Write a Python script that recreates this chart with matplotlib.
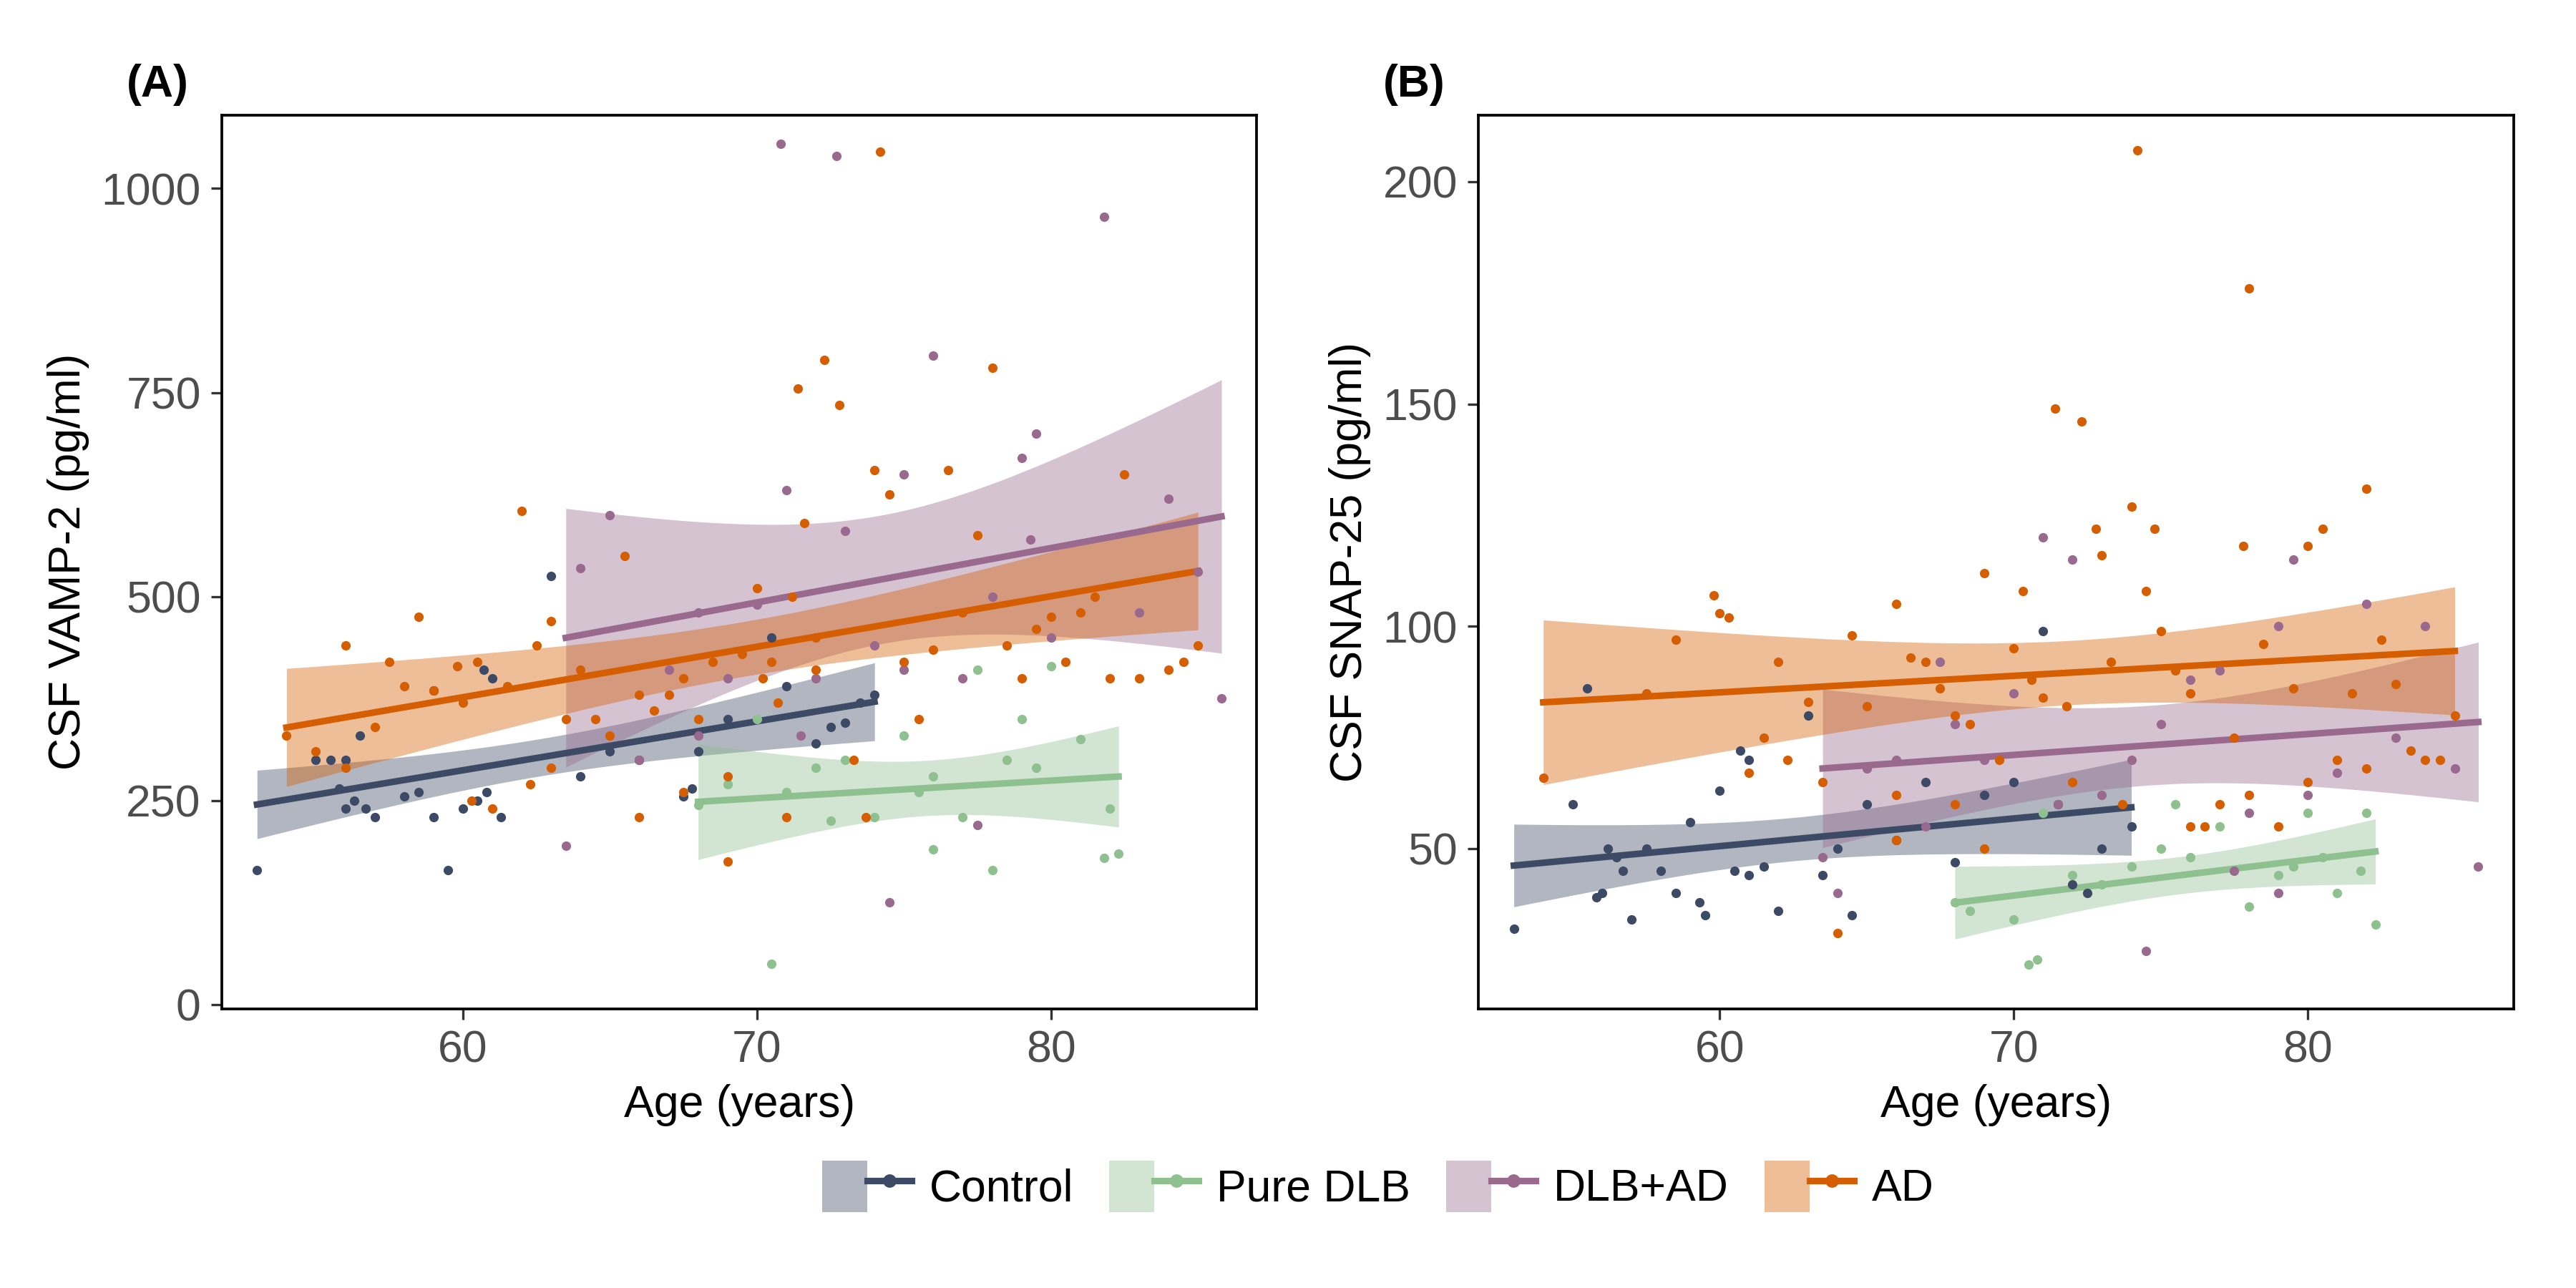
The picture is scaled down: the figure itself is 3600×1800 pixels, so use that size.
import numpy as np
import matplotlib
matplotlib.use("Agg")
import matplotlib.pyplot as plt
from matplotlib.patches import Patch
from matplotlib.lines import Line2D
from matplotlib.legend_handler import HandlerTuple

plt.rcParams['font.family'] = ['Liberation Sans', 'DejaVu Sans']

groups = ["Control", "Pure DLB", "DLB+AD", "AD"]
colors = {"Control": "#3d4a66", "Pure DLB": "#8fc08f", "DLB+AD": "#9a6a8e", "AD": "#d55e00"}

vamp_control = [(53,165),(55.5,300),(56,240),(56.5,330),(55.8,265),(56.3,250),(56.7,240),(57,230),(58,255),(58.5,260),(59,385),(59.5,165),(59,230),(60.5,250),(60.8,260),(60.7,410),(61,400),(61.3,230),(63,525),(64,280),(65,310),(66,300),(67.5,255),(67.8,265),(68,310),(69,350),(70.5,450),(71,390),(72,320),(73,345),(73.5,370),(72.5,340),(74,380),(60,240),(55,300),(56,300)]
vamp_puredlb = [(68,245),(69,270),(70.5,50),(71,260),(72,290),(72.5,225),(73,300),(74,230),(75,330),(76,190),(77,230),(77.5,410),(78,165),(79,350),(79.5,290),(80,415),(81,325),(81.8,180),(82,240),(82.3,185),(76,280),(78.5,300),(70,350),(75.5,260)]
vamp_dlbad = [(63.5,195),(64,535),(65,600),(66,300),(67,410),(68,480),(69,400),(70,490),(70.8,1055),(71,630),(72,400),(72.7,1040),(73,580),(74,440),(74.5,125),(75,650),(76,795),(77,400),(78,500),(79,670),(79.5,700),(79.3,570),(80,450),(81.8,965),(83,480),(84,620),(85,530),(85.8,375),(77.5,220),(71.5,330),(68,330),(75,410)]
vamp_ad = [(54,330),(55,310),(56,290),(56,440),(57,340),(57.5,420),(58,390),(58.5,475),(59,385),(59.8,415),(60,370),(60.3,250),(60.5,420),(61,240),(61.5,390),(62,605),(62.3,270),(62.5,440),(63,290),(63,470),(63.5,350),(64,410),(65,330),(65.5,550),(66,380),(66.5,360),(67,380),(67.5,400),(68,350),(68.5,420),(69,280),(69.5,430),(70,510),(70.2,400),(70.5,420),(71,230),(71.2,500),(71.4,755),(71.6,590),(72,410),(72.3,790),(72.8,735),(73.3,300),(73.7,230),(74,655),(74.2,1045),(74.5,625),(75,420),(75.5,350),(76,435),(76.5,655),(77,480),(77.5,575),(78,780),(78.5,440),(79,400),(79.5,460),(80,475),(80.5,420),(81,480),(81.5,500),(82,400),(82.5,650),(83,400),(84,410),(84.5,420),(85,440),(69,175),(66,230),(67.5,260),(64.5,350),(70.7,370),(72,450)]

snap_control = [(53,32),(55,60),(55.5,86),(55.8,39),(56,40),(56.2,50),(56.5,48),(56.7,45),(57,34),(58,45),(58.5,40),(59,56),(59.3,38),(59.5,35),(60,63),(60.5,45),(60.7,72),(61,70),(61.5,46),(62,36),(63,80),(63.5,44),(64,50),(64.5,35),(65,60),(66,52),(67,65),(68,47),(69,62),(70,65),(71,99),(71.5,60),(72,42),(72.5,40),(73,50),(74,55),(61,44),(57.5,50)]
snap_puredlb = [(68,38),(68.5,36),(70.5,24),(70.8,25),(71,58),(72,44),(73,42),(74,46),(75,50),(76,48),(77,55),(78,37),(79,44),(79.5,46),(80,58),(81,40),(81.8,45),(82,58),(82.3,33),(75.5,60),(80.5,48),(70,34)]
snap_dlbad = [(63.5,48),(64,40),(65,68),(66,70),(67,55),(68,78),(69,70),(70,85),(71,120),(72,115),(73,62),(74,70),(74.5,27),(75,78),(76,88),(77,90),(78,58),(79,100),(79.5,115),(80,62),(81,67),(82,105),(83,75),(84,100),(85,68),(85.8,46),(77.5,45),(71.5,60),(67.5,92),(79,40)]
snap_ad = [(54,66),(57.5,85),(58.5,97),(59.8,107),(60,103),(60.3,102),(61,67),(61.5,75),(62,92),(62.3,70),(63,83),(63.5,65),(64,31),(64.5,98),(65,82),(66,105),(66.5,93),(67,92),(67.5,86),(68,80),(68.5,78),(69,112),(69.5,70),(70,95),(70.3,108),(70.6,88),(71,84),(71.4,149),(71.8,82),(72.3,146),(72.8,122),(73,116),(73.3,92),(74,127),(74.2,207),(74.5,108),(74.8,122),(75,99),(75.5,90),(76,85),(76.5,55),(77,60),(77.5,75),(77.8,118),(78,176),(78.5,96),(79,55),(79.5,86),(80,118),(80.5,122),(81,70),(81.5,85),(82,131),(82.5,97),(83,87),(83.5,72),(84,70),(84.5,70),(85,80),(73.7,60),(69,50),(66,52),(68,60),(72,65),(76,55),(80,65),(66,62),(78,62),(82,68)]

vamp = {"Control": vamp_control, "Pure DLB": vamp_puredlb, "DLB+AD": vamp_dlbad, "AD": vamp_ad}
snap = {"Control": snap_control, "Pure DLB": snap_puredlb, "DLB+AD": snap_dlbad, "AD": snap_ad}

def fit(ax, pts, c):
    a = np.array(pts, float); x, y = a[:, 0], a[:, 1]
    n = len(x); b, m = np.polyfit(x, y, 1)
    xs = np.linspace(x.min(), x.max(), 100); ys = b * xs + m
    s = np.sqrt(np.sum((y - (b * x + m))**2) / (n - 2))
    se = s * np.sqrt(1/n + (xs - x.mean())**2 / np.sum((x - x.mean())**2))
    ax.fill_between(xs, ys - 2.02*se, ys + 2.02*se, color=c, alpha=0.4, lw=0)
    ax.plot(xs, ys, color=c, lw=2.2)

fig = plt.figure(figsize=(12, 6), dpi=300)
axA = fig.add_axes([135/1568, 1-614/784, 630/1568, 544/784])
axB = fig.add_axes([900/1568, 1-614/784, 630/1568, 544/784])
for ax, data, ylab, lab in [(axA, vamp, "CSF VAMP-2 (pg/ml)", "(A)"), (axB, snap, "CSF SNAP-25 (pg/ml)", "(B)")]:
    for g in groups:
        a = np.array(data[g])
        ax.scatter(a[:, 0], a[:, 1], s=10, color=colors[g], zorder=3, lw=0)
    for g in groups:
        fit(ax, data[g], colors[g])
    ax.set_xlim(51.8, 87)
    ax.set_xticks([60, 70, 80])
    ax.set_xlabel("Age (years)", fontsize=15)
    ax.set_ylabel(ylab, fontsize=15)
    ax.tick_params(labelsize=15, labelcolor="#4d4d4d", color="#333333")
    for sp in ax.spines.values():
        sp.set_color("black"); sp.set_linewidth(0.9)
    pos = ax.get_position()
    fig.text(pos.x0 - 0.037, 0.925, lab, fontsize=15, fontweight="bold")
axA.set_ylim(-5, 1090); axA.set_yticks([0, 250, 500, 750, 1000])
axB.set_ylim(14, 215); axB.set_yticks([50, 100, 150, 200])

handles = [(Patch(color=colors[g], alpha=0.4, lw=0), Line2D([], [], color=colors[g], lw=2.2, marker='o', ms=3.5)) for g in groups]
fig.legend(handles, groups, handler_map={tuple: HandlerTuple(ndivide=None, pad=0)}, loc="center",
           bbox_to_anchor=(0.535, 1-722/784), ncol=4, frameon=False, fontsize=15,
           handlelength=2.0, handleheight=1.4, columnspacing=0.8, handletextpad=0.4)
fig.savefig("out.png", dpi=300)
